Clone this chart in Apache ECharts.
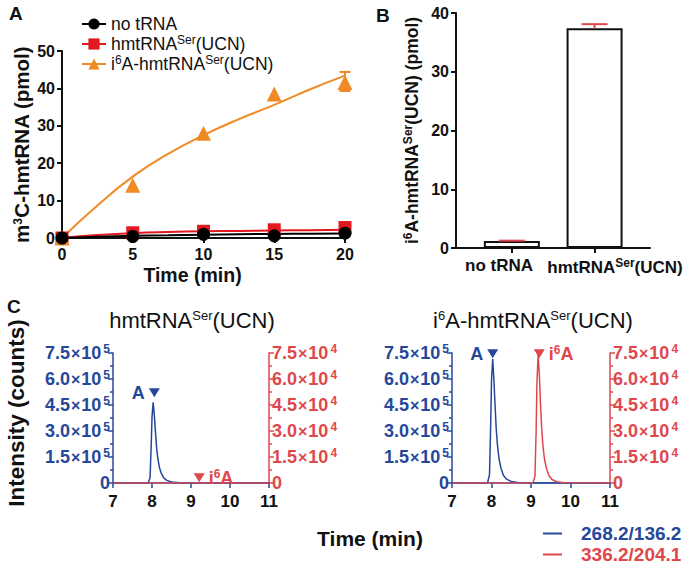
<!DOCTYPE html>
<html>
<head>
<meta charset="utf-8">
<script src="https://cdn.jsdelivr.net/npm/echarts@6/dist/echarts.min.js"></script>
<style>
  html, body { margin: 0; padding: 0; background: #fff; }
  #chart { width: 693px; height: 565px; }
</style>
</head>
<body>
<div id="chart"></div>
<script>
var FONT = 'Liberation Sans, Arial, sans-serif';
var BLUE = '#26489a', RED = '#e0474c', ORANGE = '#f08a24', SQRED = '#e3191f', INK = '#111';

// --- Panel A: m3C formation over time ---
var timeA = [0, 5, 10, 15, 20];
var noTrna = [0, 0.4, 1.0, 0.6, 1.3];
var hmtSer = [0, 1.4, 1.8, 2.2, 2.8];
var i6aSer = [0, 14.1, 28.0, 38.5, 41.6];
var i6aErr = [[20, 39.3, 44.4]];
var fitX = [0, 2.5, 5, 7.5, 10, 12.5, 15, 17.5, 20];
var fitNo = [0, 0.35, 0.6, 0.75, 0.9, 1.0, 1.1, 1.15, 1.2];
var fitHmt = [0, 0.8, 1.3, 1.6, 1.8, 1.9, 2.0, 2.1, 2.2];
var fitI6a = [0, 8.7, 16.4, 22.5, 27.5, 31.8, 35.6, 39.7, 43.4];

// --- Panel B: i6A formed ---
var catsB = ['no tRNA', 'hmtRNA{s|Ser}(UCN)'];
var valsB = [1.2, 37.4];
var errB = [0.05, 0.7];
var labelPosB = [-0.155, 1.247]; // labels sit a bit off the bar centres in the figure

// --- Panel C: chromatograms ---
var tBlue = [7.0, 7.9, 7.95, 7.98, 8.0, 8.03, 8.06, 8.09, 8.12, 8.15, 8.19, 8.24, 8.3, 8.38, 8.5, 8.7, 9.0, 11.0];
var blueUntreated = [0, 0, 0.3e5, 2.2e5, 3.8e5, 4.65e5, 3.9e5, 2.9e5, 2.0e5, 1.4e5, 0.9e5, 0.55e5, 0.3e5, 0.15e5, 0.06e5, 0.01e5, 0, 0];
var blueI6a = [0, 0, 0.5e5, 3.4e5, 5.9e5, 7.15e5, 6.0e5, 4.5e5, 3.1e5, 2.2e5, 1.4e5, 0.85e5, 0.45e5, 0.22e5, 0.09e5, 0.02e5, 0, 0];
var tRed = [7.0, 9.05, 9.1, 9.13, 9.15, 9.18, 9.21, 9.24, 9.27, 9.3, 9.34, 9.39, 9.45, 9.53, 9.65, 9.85, 11.0];
var redUntreated = [0, 0, 0, 0, 0, 0, 0, 0, 0, 0, 0, 0, 0, 0, 0, 0, 0];
var redI6a = [0, 0, 0.4e4, 3.0e4, 5.8e4, 7.4e4, 6.3e4, 4.6e4, 3.2e4, 2.2e4, 1.4e4, 0.85e4, 0.45e4, 0.2e4, 0.07e4, 0.01e4, 0];

function pairs(xs, ys) { return xs.map(function (x, i) { return [x, ys[i]]; }); }

var sup = { fontSize: 12, padding: [0, 0, 8, 0] };
var supB = { fontSize: 12, fontWeight: 'bold', padding: [0, 0, 8, 0] };

function errRender(capW, color, lowCap) {
  return function (params, api) {
    var x = api.value(0), lo = api.value(1), hi = api.value(2);
    var a = api.coord([x, lo]), b = api.coord([x, hi]);
    var st = { stroke: color, lineWidth: 2 };
    var kids = [
      { type: 'line', shape: { x1: a[0], y1: a[1], x2: b[0], y2: b[1] }, style: st },
      { type: 'line', shape: { x1: b[0] - capW / 2, y1: b[1], x2: b[0] + capW / 2, y2: b[1] }, style: st }
    ];
    if (lowCap) kids.push({ type: 'line', shape: { x1: a[0] - capW / 2, y1: a[1], x2: a[0] + capW / 2, y2: a[1] }, style: st });
    return { type: 'group', children: kids };
  };
}

function sciLabel(exp) {
  return function (v) {
    if (v === 0) return '0';
    return (v / Math.pow(10, exp)).toFixed(1) + '{x|×}10{s|' + exp + '}';
  };
}

var axisBlack = { onZero: false, lineStyle: { color: INK, width: 2 } };
var lblBold = { color: INK, fontSize: 16, fontWeight: 'bold', fontFamily: FONT };

function cY(color, exp, pos, grid) {
  return {
    type: 'value', gridIndex: grid, position: pos, min: 0, max: 7.5 * Math.pow(10, exp), interval: 1.5 * Math.pow(10, exp),
    splitLine: { show: false },
    axisLine: { show: true, onZero: false, lineStyle: { color: color, width: 1.5 } },
    axisTick: { show: true, length: 5, lineStyle: { color: color, width: 1.5 } },
    minorTick: { show: true, splitNumber: 2, length: 3, lineStyle: { color: color, width: 1.5 } },
    axisLabel: {
      color: color, fontSize: 18, fontWeight: 'bold', fontFamily: FONT, margin: 3,
      formatter: sciLabel(exp),
      rich: {
        s: { fontSize: 12, fontWeight: 'bold', color: color, padding: [0, 0, 9, 2] },
        x: { fontSize: 16, color: color, padding: [0, 1, 0, 1] }
      }
    }
  };
}

function cX(grid) {
  return {
    type: 'value', gridIndex: grid, min: 7, max: 11, interval: 1,
    splitLine: { show: false },
    axisLine: { onZero: false, lineStyle: { color: BLUE, width: 1.5 } },
    axisTick: { length: 5, lineStyle: { color: BLUE, width: 1.5 } },
    axisLabel: { color: INK, fontSize: 17, fontWeight: 'bold', fontFamily: FONT, margin: 10 }
  };
}

function tri(coord, color, text, pos) {
  return {
    coord: coord, symbol: 'triangle', symbolRotate: 180, symbolSize: [11, 9],
    itemStyle: { color: color },
    label: {
      show: true, position: pos, distance: 4, formatter: text, color: color,
      fontSize: 18, fontWeight: 'bold', fontFamily: FONT,
      rich: { s: { fontSize: 12, fontWeight: 'bold', color: color, padding: [0, 0, 8, 0] } }
    }
  };
}

function cLegend(name, color, top) {
  return {
    data: [{ name: name, textStyle: { color: color } }],
    left: 543, top: top, icon: 'rect', itemWidth: 19, itemHeight: 2, padding: 0,
    textStyle: { fontSize: 19, lineHeight: 19, fontWeight: 'bold', fontFamily: FONT, padding: [0, 0, 0, 14] }
  };
}

var chart = echarts.init(document.getElementById('chart'), null, { renderer: 'svg' });
chart.setOption({
  animation: false,
  textStyle: { fontFamily: FONT },
  grid: [
    { left: 62, top: 51, width: 283, height: 187 },
    { left: 456, top: 13, width: 194, height: 235 },
    { left: 113, top: 353, width: 156, height: 130 },
    { left: 452, top: 353, width: 158, height: 130 }
  ],
  legend: [{
    data: ['no tRNA', 'hmtRNA{s|Ser}(UCN)', 'i{s|6}A-hmtRNA{s|Ser}(UCN)'],
    orient: 'vertical', left: 76, top: 10, itemWidth: 24, itemHeight: 14, itemGap: 1,
    lineStyle: { width: 2, opacity: 1 },
    textStyle: { color: INK, fontSize: 17.5, lineHeight: 18, fontFamily: FONT, rich: { s: sup } }
  }, cLegend('268.2/136.2', BLUE, 524), cLegend('336.2/204.1', RED, 545)],
  xAxis: [{
    type: 'value', gridIndex: 0, min: 0, max: 20, interval: 5,
    splitLine: { show: false }, axisLine: axisBlack,
    axisTick: { length: 5, lineStyle: { color: INK, width: 2 } },
    axisLabel: Object.assign({ margin: 8 }, lblBold)
  }, {
    type: 'value', gridIndex: 1, min: -0.675, max: 1.67,
    splitLine: { show: false }, axisLine: axisBlack,
    axisTick: { length: 5, lineStyle: { color: INK, width: 2 }, customValues: [0, 1] },
    axisLabel: Object.assign({ margin: 9, customValues: labelPosB, rich: { s: supB },
      formatter: function (v) { return catsB[v < 0.5 ? 0 : 1]; } },
      lblBold, { fontSize: 17 })
  }, cX(2), cX(3)],
  yAxis: [{
    type: 'value', gridIndex: 0, min: 0, max: 50, interval: 10,
    splitLine: { show: false }, axisLine: axisBlack,
    axisTick: { length: 5, lineStyle: { color: INK, width: 2 } },
    axisLabel: Object.assign({ margin: 7 }, lblBold),
    name: 'm{s|3}C-hmtRNA (pmol)', nameLocation: 'middle', nameGap: 30,
    nameTextStyle: { color: INK, fontSize: 20.5, fontWeight: 'bold', fontFamily: FONT, rich: { s: supB } }
  }, {
    type: 'value', gridIndex: 1, min: 0, max: 40, interval: 10,
    splitLine: { show: false }, axisLine: axisBlack,
    axisTick: { length: 5, lineStyle: { color: INK, width: 2 } },
    axisLabel: Object.assign({ margin: 7 }, lblBold),
    name: 'i{s|6}A-hmtRNA{s|Ser}(UCN) (pmol)', nameLocation: 'middle', nameGap: 34,
    nameTextStyle: { color: INK, fontSize: 17.5, fontWeight: 'bold', fontFamily: FONT, rich: { s: supB } }
  }, cY(BLUE, 5, 'left', 2), cY(RED, 4, 'right', 2), cY(BLUE, 5, 'left', 3), cY(RED, 4, 'right', 3)],
  series: [
    // panel A
    { type: 'line', name: 'no tRNA', xAxisIndex: 0, yAxisIndex: 0, data: pairs(timeA, noTrna),
      symbol: 'circle', symbolSize: 13, itemStyle: { color: '#000' }, lineStyle: { opacity: 0 }, z: 5 },
    { type: 'line', name: 'hmtRNA{s|Ser}(UCN)', xAxisIndex: 0, yAxisIndex: 0, data: pairs(timeA, hmtSer),
      symbol: 'rect', symbolSize: 13, itemStyle: { color: SQRED }, lineStyle: { opacity: 0 }, z: 4 },
    { type: 'line', name: 'i{s|6}A-hmtRNA{s|Ser}(UCN)', xAxisIndex: 0, yAxisIndex: 0, data: pairs(timeA, i6aSer),
      symbol: 'triangle', symbolSize: 15, itemStyle: { color: ORANGE }, lineStyle: { opacity: 0 }, z: 4 },
    { type: 'line', xAxisIndex: 0, yAxisIndex: 0, data: pairs(fitX, fitHmt), smooth: true, symbol: 'none',
      lineStyle: { color: SQRED, width: 2 }, z: 3 },
    { type: 'line', xAxisIndex: 0, yAxisIndex: 0, data: pairs(fitX, fitNo), smooth: true, symbol: 'none',
      lineStyle: { color: '#000', width: 2 }, z: 3 },
    { type: 'line', xAxisIndex: 0, yAxisIndex: 0, data: pairs(fitX, fitI6a), smooth: true, symbol: 'none',
      lineStyle: { color: ORANGE, width: 2 }, z: 3 },
    { type: 'custom', xAxisIndex: 0, yAxisIndex: 0, data: i6aErr, renderItem: errRender(11, ORANGE, true), z: 6 },
    // panel B
    { type: 'bar', name: 'B', xAxisIndex: 1, yAxisIndex: 1, barWidth: 56,
      data: valsB.map(function (v, i) { return [i, v]; }),
      itemStyle: { color: '#fff', borderColor: INK, borderWidth: 2 } },
    { type: 'custom', xAxisIndex: 1, yAxisIndex: 1,
      data: valsB.map(function (v, i) { return [i, v, v + errB[i]]; }),
      renderItem: errRender(26, RED, false), z: 6 },
    // panel C left
    { type: 'line', name: '268.2/136.2', xAxisIndex: 2, yAxisIndex: 2, data: pairs(tBlue, blueUntreated),
      symbol: 'none', lineStyle: { color: BLUE, width: 1.5 }, itemStyle: { color: BLUE },
      markPoint: { data: [tri([8.06, 5.2e5], BLUE, 'A', 'left')] } },
    { type: 'line', name: '336.2/204.1', xAxisIndex: 2, yAxisIndex: 3, data: pairs(tRed, redUntreated),
      symbol: 'none', lineStyle: { color: RED, width: 1.5 }, itemStyle: { color: RED },
      markPoint: { data: [tri([9.21, 0.3e4], RED, 'i{s|6}A', 'right')] } },
    // panel C right
    { type: 'line', name: '268.2/136.2', xAxisIndex: 3, yAxisIndex: 4, data: pairs(tBlue, blueI6a),
      symbol: 'none', lineStyle: { color: BLUE, width: 1.5 }, itemStyle: { color: BLUE },
      markPoint: { data: [tri([8.03, 7.46e5], BLUE, 'A', 'left')] } },
    { type: 'line', name: '336.2/204.1', xAxisIndex: 3, yAxisIndex: 5, data: pairs(tRed, redI6a),
      symbol: 'none', lineStyle: { color: RED, width: 1.5 }, itemStyle: { color: RED },
      markPoint: { data: [tri([9.21, 7.46e4], RED, 'i{s|6}A', 'right')] } }
  ],
  graphic: [
    { type: 'text', left: 9, top: 4, style: { text: 'A', fontSize: 19, fontWeight: 'bold', fontFamily: FONT, fill: INK } },
    { type: 'text', left: 376, top: 6, style: { text: 'B', fontSize: 19, fontWeight: 'bold', fontFamily: FONT, fill: INK } },
    { type: 'text', left: 7, top: 297, style: { text: 'C', fontSize: 19, fontWeight: 'bold', fontFamily: FONT, fill: INK } },
    { type: 'text', x: 192.5, y: 275, style: { text: 'Time (min)', align: 'center', verticalAlign: 'middle',
      fontSize: 19.5, fontWeight: 'bold', fontFamily: FONT, fill: INK } },
    { type: 'text', x: 192, y: 320, style: { text: 'hmtRNA{s|Ser}(UCN)', align: 'center', verticalAlign: 'middle',
      fontSize: 22, fontFamily: FONT, fill: INK, rich: { s: { fontSize: 13, padding: [0, 0, 10, 0] } } } },
    { type: 'text', x: 533, y: 320, style: { text: 'i{s|6}A-hmtRNA{s|Ser}(UCN)', align: 'center', verticalAlign: 'middle',
      fontSize: 22, fontFamily: FONT, fill: INK, rich: { s: { fontSize: 13, padding: [0, 0, 10, 0] } } } },
    { type: 'text', x: 16, y: 413, rotation: Math.PI / 2, style: { text: 'Intensity (counts)', align: 'center', verticalAlign: 'middle',
      fontSize: 22.5, fontWeight: 'bold', fontFamily: FONT, fill: INK } },
    { type: 'text', x: 370, y: 538, style: { text: 'Time (min)', align: 'center', verticalAlign: 'middle',
      fontSize: 21, fontWeight: 'bold', fontFamily: FONT, fill: INK } }
  ]
});
window.addEventListener('resize', function () { chart.resize(); });
</script>
</body>
</html>
